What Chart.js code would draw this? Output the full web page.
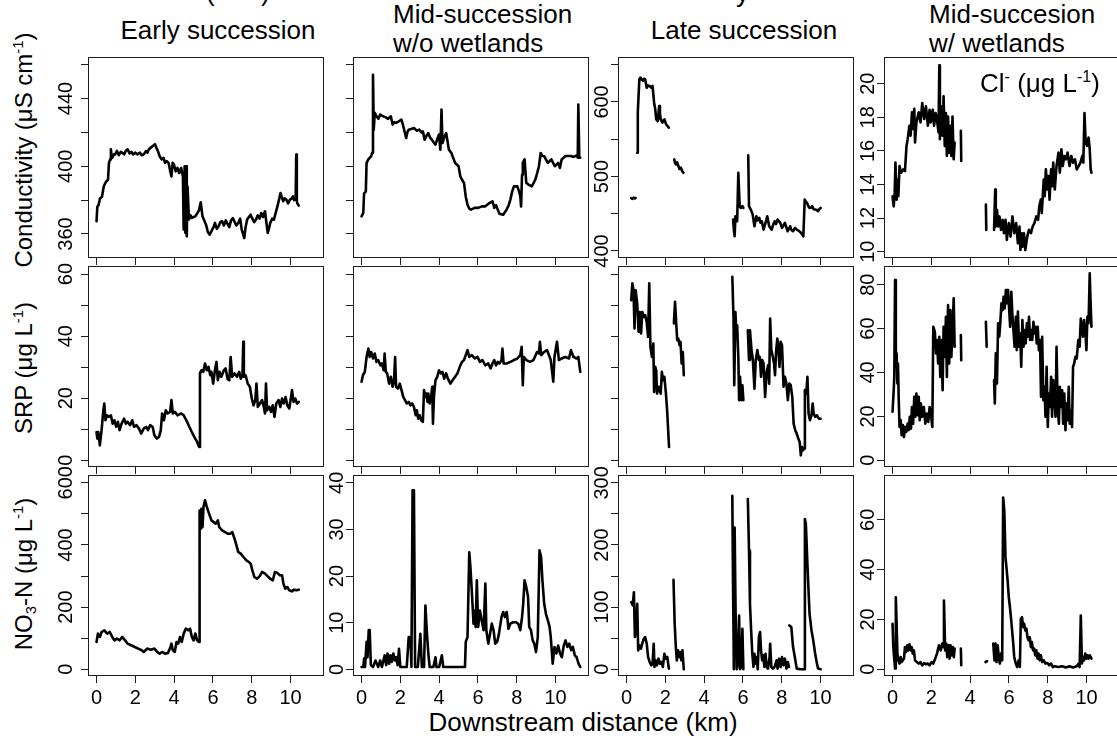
<!DOCTYPE html>
<html>
<head>
<meta charset="utf-8">
<title>Downstream longitudinal profiles</title>
<script src="https://cdn.jsdelivr.net/npm/chart.js@4.4.1/dist/chart.umd.min.js"></script>
<style>
  html, body { margin:0; padding:0; background:#fff; }
  body { width:1117px; height:740px; overflow:hidden; position:relative;
         font-family:"Liberation Sans", Arial, Helvetica, sans-serif; color:#000; }
  canvas.panel { position:absolute; }
  .txt { position:absolute; white-space:nowrap; }
  .rot { position:absolute; white-space:nowrap; text-align:center; transform:rotate(-90deg); transform-origin:50% 50%; }
  sup { font-size:0.62em; vertical-align:0.62em; line-height:0; }
  sub { font-size:0.62em; vertical-align:-0.25em; line-height:0; }
</style>
</head>
<body>
<!-- clipped fragments of a heading above the figure -->
<div class="txt" style="left:206px;top:-21px;font-size:26px;line-height:26px;">(</div>
<div class="txt" style="left:261px;top:-21px;font-size:26px;line-height:26px;">)</div>
<div class="txt" style="left:736px;top:-20px;font-size:26px;line-height:26px;">y</div>

<!-- column titles -->
<div class="txt" style="left:18px;width:400px;text-align:center;top:17px;font-size:26px;line-height:26px;">Early succession</div>
<div class="txt" style="left:393px;top:1px;font-size:26px;line-height:26px;">Mid-succession</div>
<div class="txt" style="left:393px;top:30px;font-size:26px;line-height:26px;">w/o wetlands</div>
<div class="txt" style="left:544px;width:400px;text-align:center;top:17px;font-size:26px;line-height:26px;">Late succession</div>
<div class="txt" style="left:929px;top:1px;font-size:26px;line-height:26px;">Mid-succesion</div>
<div class="txt" style="left:929px;top:30px;font-size:26px;line-height:26px;">w/ wetlands</div>

<!-- row (y axis) titles -->
<div class="rot" style="left:-126px;top:138px;width:300px;height:24px;font-size:24px;line-height:24px;">Conductivity (μS cm<sup>-1</sup>)</div>
<div class="rot" style="left:-126px;top:356px;width:300px;height:24px;font-size:24px;line-height:24px;">SRP (μg L<sup>-1</sup>)</div>
<div class="rot" style="left:-126px;top:562px;width:300px;height:24px;font-size:24px;line-height:24px;">NO<sub>3</sub>-N (μg L<sup>-1</sup>)</div>

<!-- chloride label inside the top-right panel -->
<div class="txt" style="left:980px;top:70px;font-size:26px;line-height:26px;z-index:5;">Cl<sup>-</sup> (μg L<sup>-1</sup>)</div>

<!-- x axis title -->
<div class="txt" style="left:283px;width:600px;text-align:center;top:709px;font-size:26px;line-height:26px;">Downstream distance (km)</div>

<script>
// ---------------- DATA ----------------
// Row 1: conductivity (µS/cm) / chloride
const condEarlyKm = [0,0.04,0.10,0.18,0.28,0.37,0.45,0.50,0.59,0.64,0.70,0.74,0.78,0.81,0.90,0.96,1.05,1.15,1.25,1.32,1.42,1.50,1.60,1.70,1.80,1.88,2.00,2.10,2.24,2.33,2.43,2.55,2.62,2.70,2.80,2.90,3.01,3.08,3.16,3.25,3.35,3.45,3.53,3.62,3.71,3.78,3.86,3.92,3.99,4.08,4.17,4.26,4.36,4.45,4.49,4.54,4.58,4.61,4.65,4.69,4.76,4.84,4.91,5.00,5.09,5.18,5.28,5.37,5.46,5.55,5.64,5.74,5.83,5.96,6.03,6.10,6.20,6.29,6.38,6.47,6.56,6.66,6.75,6.84,6.93,7.02,7.12,7.20,7.30,7.40,7.48,7.55,7.61,7.68,7.76,7.85,7.94,8.03,8.12,8.22,8.30,8.40,8.49,8.58,8.68,8.76,8.82,8.88,8.95,9.05,9.14,9.22,9.32,9.42,9.48,9.54,9.62,9.69,9.78,9.87,9.97,10.06,10.12,10.18,10.26,10.29,10.32,10.35,10.42];
const condEarly = [367.5,376,377,381,382,388,390,391,392,402,404,410,406,405,407,407,409,406.5,408.5,408,407,409,410,407.5,408.5,407,408,407,408,406.5,407,409,408,410,411,412,413,411,409,406,404,405,402,403,402,398,394,402,401,397,399,396,399,394,362.6,400,360.6,400,358.6,388,368.5,371,369.5,370,370.4,372,374,378.7,370.4,368,365.5,361,359.6,362.6,364,366.5,363,364.5,367,367.5,365,368,366,364,368,369.4,367,365,366.5,369,362.6,360,357.6,364,368.5,370,371.4,369,367,368.5,371,369,372.4,370,373.4,366,360.6,363,366.5,369,368.5,372,376.3,381,384.2,382,379.3,381,380.3,378,380.3,381,382.2,380,380.3,406.9,379.3,378,376.7];

const condMidKm = [0,0.09,0.13,0.22,0.26,0.35,0.50,0.55,0.59,0.63,0.68,0.77,0.87,0.96,1.10,1.23,1.37,1.51,1.60,1.70,1.78,1.92,2.06,2.15,2.30,2.36,2.43,2.56,2.70,2.84,2.98,3.08,3.16,3.25,3.35,3.44,3.53,3.62,3.72,3.81,3.90,3.99,4.06,4.12,4.17,4.26,4.36,4.50,4.63,4.72,4.82,4.91,5.00,5.09,5.18,5.28,5.37,5.46,5.55,5.64,5.82,6.01,6.20,6.38,6.56,6.75,6.84,6.93,7.10,7.30,7.48,7.58,7.67,7.76,7.85,8.03,8.12,8.18,8.22,8.27,8.31,8.40,8.49,8.63,8.77,8.86,8.95,9.05,9.14,9.23,9.32,9.41,9.50,9.60,9.69,9.78,9.87,9.96,10.05,10.13,10.22,10.31,10.41,10.51,10.65,10.79,10.93,11.08,11.14,11.17,11.22,11.27];
const condMid = [370.4,372.4,384,385,402,404,406,408,454,421.6,431.5,429.5,428,430.5,429.5,429,428,429.5,424.6,426,425.6,426.5,427.5,423.6,416.7,420,421.6,422,422.6,421,421.6,420,420.6,415.7,418,419.6,417,415.7,414,412.8,416,418.7,409.8,433.4,413.7,417,419.6,409.8,407.8,405,402,401,400,394,392,390,382,377.3,375,374.4,375.4,375.4,376.3,376.3,378,379.3,375.4,377,372,371.4,374.4,377,380.3,385,388.1,388.1,385,382.2,376.3,395,402,404,390.1,389,388.1,390,392,396,400,407.8,406,405.9,404,402,403,404,402,400,401,402,399,404,405,406,406,406,405.5,406.3,405,436.4,405,405];

const condLateKm = [0.24,0.30,0.36,0.42,0.47,0.51,0.55,0.58,0.66,0.72,0.78,0.85,0.90,0.96,1.04,1.10,1.19,1.28,1.34,1.42,1.48,1.53,1.61,1.68,1.72,1.76,1.85,1.90,1.95,2.04,2.10,2.18,2.30,2.46,2.50,2.55,2.60,2.67,2.73,2.80,2.87,2.93,4.20,5.49,5.53,5.57,5.61,5.64,5.70,5.76,5.83,5.89,5.97,6.02,6.15,6.27,6.31,6.40,6.50,6.59,6.69,6.76,6.84,6.90,6.97,7.06,7.16,7.25,7.35,7.48,7.55,7.63,7.70,7.78,7.92,8.01,8.08,8.16,8.30,8.37,8.43,8.50,8.58,8.68,8.77,8.88,9.00,9.11,9.18,9.24,9.30,9.37,9.43,9.50,9.57,9.64,9.72,9.80,9.87,9.93,10.00];
const condLate = [471,470,471.5,470.5,471,null,531.8,585.6,630.5,632.7,630,628.3,631,630.5,619,622,621.5,619,621.5,599,590,576.7,574.4,594.6,585,576.7,572.2,575,576.7,570,568,565.5,null,522.9,518,516.1,519,513.9,510,511.7,507,504.9,null,442.2,428.7,419.7,446.6,442.2,439.9,504.9,460.1,457.8,460.1,457.8,null,528.3,460.1,455.6,448.9,433.2,446.6,441,444.4,438,439.9,428.7,437.7,446.6,433.2,428.7,435,439.9,436,442.2,437.7,431,434,437.7,426.5,430,433.2,428,426.5,431,428.7,427,424.2,419.7,469,466,464.6,460,457.8,458,460.1,456,455.6,455,453.4,456,457.8];

const clWetKm = [0,0.06,0.11,0.15,0.21,0.27,0.30,0.36,0.44,0.55,0.64,0.72,0.78,0.87,0.93,1.00,1.06,1.12,1.16,1.23,1.35,1.44,1.53,1.63,1.72,1.82,1.91,1.97,2.07,2.14,2.22,2.29,2.37,2.41,2.44,2.52,2.58,2.63,2.69,2.75,2.80,2.86,2.92,2.98,3.03,3.09,3.15,3.20,3.40,3.52,3.54,4.20,4.81,4.83,5.00,5.23,5.29,5.32,5.38,5.44,5.51,5.59,5.67,5.74,5.82,5.89,5.99,6.08,6.18,6.27,6.37,6.46,6.54,6.59,6.65,6.71,6.77,6.84,6.94,7.03,7.13,7.22,7.31,7.41,7.50,7.56,7.64,7.69,7.79,7.84,7.90,7.98,8.03,8.09,8.17,8.22,8.28,8.36,8.45,8.55,8.62,8.70,8.77,8.85,8.93,9.02,9.12,9.21,9.30,9.40,9.49,9.59,9.68,9.78,9.83,9.89,9.95,10.02,10.10,10.16,10.21,10.25];
const clWet = [13.3,12.7,13.5,15.3,13.1,14.3,13.3,15.1,14.7,14.9,14.8,16.3,16.7,17.5,16.9,18.3,17.3,18.5,16.5,17.7,18.3,17.7,18.85,17.9,18.65,17.5,18.45,17.7,18.45,17.5,18.25,17.85,17.1,21.1,16.7,18.65,16.9,19.25,16.3,18.25,15.7,18.05,15.9,17.5,15.7,18.05,15.5,16.5,null,17.2,15.4,null,12.8,11.3,null,11.3,13.7,11.5,12.5,11.5,12.1,11.3,11.9,11.1,11.9,10.7,11.7,10.9,12.1,11.1,11.7,10.5,11.5,10.1,11.1,10.3,11.1,10.1,10.9,11.3,11.1,11.5,11.7,12.1,11.9,12.7,13.1,12.3,14.3,13.3,14.9,13.7,14.5,13.1,14.9,13.9,15.3,13.7,15.1,15.9,14.7,16.1,15.1,15.7,15.5,15.9,15.1,15.7,15.3,15.5,14.9,15.1,15.3,15.7,15.3,18.25,16.5,16.3,16.8,16.1,14.9,14.7];

// Row 2: SRP (µg/L)
const srpEarlyKm = [0,0.04,0.09,0.17,0.26,0.35,0.40,0.46,0.53,0.63,0.74,0.83,0.92,1.01,1.10,1.19,1.29,1.42,1.51,1.60,1.73,1.84,1.93,2.06,2.19,2.30,2.43,2.56,2.65,2.76,2.89,2.98,3.11,3.22,3.31,3.38,3.47,3.57,3.66,3.79,3.86,3.93,4.04,4.17,4.36,4.49,4.63,4.78,4.91,5.04,5.18,5.29,5.33,5.40,5.50,5.59,5.68,5.77,5.86,5.92,6.01,6.10,6.18,6.25,6.34,6.43,6.56,6.65,6.75,6.84,6.91,6.99,7.11,7.24,7.35,7.43,7.52,7.56,7.59,7.68,7.79,7.90,8.00,8.09,8.18,8.24,8.31,8.42,8.53,8.62,8.68,8.73,8.79,8.90,8.99,9.08,9.17,9.26,9.38,9.47,9.56,9.65,9.74,9.83,9.93,10.00,10.07,10.15,10.24,10.33,10.42];
const srpEarly = [9.1,7,9.1,4.8,9.7,16.1,18.3,12.9,14.5,14,14.5,11.8,12.9,10.8,12.4,9.7,11.8,13.4,11.8,12.4,11.3,12.9,10.8,11.3,10.2,8.6,10.2,10.8,9.7,11.3,10.8,8.1,7,7.5,9.7,15.1,12.9,16.1,15.1,15.6,19.4,15.1,15.6,14.5,15.1,14.5,12.9,10.8,9.1,7.5,5.9,4.3,28,29,28.5,31.2,29,30.1,27.4,28.5,24.7,29,31.7,25.8,28.5,26.9,29,29.6,26.3,25.8,33.3,26.9,28,26.9,28.5,26.3,27.4,38.2,26.9,27.4,24.7,23.7,19.9,17.7,19.4,24.7,17.2,18.3,19.4,17.2,15.1,24.7,16.1,17.2,15.6,17.7,14,18.3,19.4,17.2,19.9,18.3,20.4,17.7,16.7,19.4,22.6,18.8,19.9,18.3,18.8];

const srpMidKm = [0,0.07,0.17,0.26,0.35,0.42,0.50,0.59,0.68,0.77,0.86,0.97,1.05,1.14,1.19,1.25,1.32,1.42,1.51,1.60,1.67,1.73,1.78,1.88,1.97,2.06,2.15,2.24,2.33,2.43,2.52,2.61,2.70,2.79,2.85,2.92,3.00,3.07,3.16,3.22,3.29,3.35,3.40,3.44,3.51,3.58,3.64,3.68,3.73,3.81,3.90,3.99,4.08,4.17,4.26,4.36,4.45,4.58,4.69,4.82,4.94,5.09,5.18,5.28,5.37,5.46,5.55,5.68,5.83,5.97,6.10,6.23,6.38,6.53,6.65,6.75,6.84,6.93,7.02,7.11,7.21,7.26,7.32,7.48,7.67,7.85,8.03,8.18,8.25,8.31,8.36,8.49,8.68,8.86,9.04,9.14,9.19,9.26,9.41,9.56,9.75,9.88,9.94,10.07,10.17,10.31,10.50,10.69,10.79,10.92,11.08,11.17,11.27];
const srpMid = [25.3,27.4,28.5,33.3,36,33.3,34.9,32.8,34.4,31.7,32.3,30.6,31.2,29,34.4,28.5,28,24.7,26.9,23.7,25.3,33.3,23.7,23.1,24.7,22.6,20.4,19.4,18.3,18.8,17.7,18.3,17.2,14.5,16.1,13.4,14.5,12.9,12.4,22.6,20.4,21.5,18.8,21.5,18.3,19.9,23.7,11.8,20.4,25.8,26.9,29,28,28.5,26.3,28,26.3,24.7,25.8,26.9,28,30.6,31.7,32.3,33.9,35.5,33.3,33.9,32.8,33.3,31.7,32.3,30.6,31.2,29.6,31.2,32.3,30.6,31.7,31.2,32.3,36,31.2,31.2,31.7,32.3,32.8,33.9,36.6,24.2,33.3,32.3,31.7,32.3,34.9,34.4,38.2,33.9,34.9,35.5,32.3,25.3,33.3,38.2,32.3,32.8,33.3,32.8,35.5,33.3,32.8,33.3,28.5];

const srpLateKm = [0.24,0.30,0.36,0.41,0.47,0.55,0.62,0.68,0.75,0.81,0.89,0.96,1.04,1.11,1.17,1.23,1.31,1.38,1.42,1.48,1.53,1.57,1.66,1.76,1.82,1.89,1.95,2.03,2.10,2.19,2.30,2.44,2.50,2.55,2.61,2.67,2.73,2.78,2.84,2.90,2.95,4.20,5.45,5.51,5.55,5.61,5.66,5.70,5.76,5.80,5.85,5.91,5.97,6.02,6.15,6.25,6.31,6.36,6.44,6.51,6.59,6.66,6.74,6.82,6.87,6.93,6.99,7.06,7.14,7.21,7.29,7.35,7.40,7.46,7.54,7.60,7.65,7.71,7.77,7.82,7.88,7.94,8.01,8.09,8.16,8.24,8.31,8.39,8.46,8.54,8.61,8.69,8.77,8.85,8.92,8.98,9.04,9.09,9.15,9.19,9.26,9.32,9.38,9.45,9.53,9.59,9.64,9.72,9.81,9.91,10.00];
const srpLate = [51.6,57,54.8,42.5,54.8,50.5,41.4,47.8,40.9,47.8,46.2,46.8,44.6,39.8,57,36.6,33.3,37.6,22,30.1,29,21.5,23.7,21.5,28.5,25.8,26.9,21.5,15.1,4.3,null,44.1,51.1,45.2,38.7,39.2,37.1,38.2,31.2,34.9,27.4,null,59.1,46.2,24.2,47.8,40.3,43.5,33.3,19.4,26.9,19.4,24.2,19.4,null,41.9,32.3,41.9,35.5,32.3,23.1,32.3,35.5,32.3,33.3,26.9,32.3,31.2,20.4,28,30.6,24.7,45.7,35.5,33.3,31.2,27.4,35.5,39.2,36.6,30.1,38.2,37.1,23.7,26.9,24.7,19.4,24.7,24.2,20.4,11.8,9.7,8.6,7,5.9,1.6,4.3,3.2,3.8,22.6,21.5,26.9,15.1,12.9,14.5,18.3,15.1,14,14.5,13.4,13.4];

const srpWetKm = [0,0.06,0.09,0.13,0.17,0.21,0.25,0.28,0.32,0.36,0.42,0.47,0.53,0.59,0.64,0.70,0.78,0.83,0.89,0.95,1.00,1.06,1.12,1.17,1.23,1.29,1.35,1.40,1.46,1.53,1.61,1.69,1.76,1.84,1.91,1.99,2.05,2.10,2.18,2.24,2.29,2.35,2.41,2.46,2.52,2.58,2.63,2.69,2.75,2.80,2.86,2.92,2.98,3.03,3.09,3.15,3.20,3.40,3.52,3.54,4.20,4.81,4.85,5.00,5.23,5.27,5.32,5.38,5.44,5.50,5.55,5.61,5.67,5.72,5.78,5.84,5.89,5.95,6.01,6.06,6.12,6.18,6.23,6.29,6.35,6.40,6.46,6.52,6.58,6.63,6.69,6.75,6.80,6.86,6.92,6.97,7.03,7.09,7.14,7.20,7.26,7.31,7.37,7.43,7.48,7.54,7.60,7.65,7.71,7.77,7.83,7.88,7.94,8.00,8.05,8.11,8.17,8.22,8.28,8.34,8.40,8.45,8.51,8.57,8.62,8.68,8.74,8.79,8.85,8.91,8.96,9.02,9.08,9.13,9.19,9.25,9.30,9.36,9.42,9.49,9.57,9.64,9.70,9.76,9.81,9.87,9.93,9.99,10.04,10.10,10.16,10.20,10.25];
const srpWet = [22.1,31.9,38,82.1,42.6,48.7,35,44.1,27.4,15.2,18.3,11.4,16,10.6,15.2,12.9,16.7,13.7,19.8,14.4,24.3,16.7,28.9,19.8,30.4,20.5,28.9,18.3,25.9,19.8,24.3,16.7,21.3,17.5,24.3,19.8,15.2,60.8,58.6,48.7,54.8,44.1,56.3,38,54.8,31.9,60.8,47.1,65.4,38,70.7,44.1,68.4,47.1,59.3,73.8,51.7,null,57,45.6,null,63.1,51.7,null,36.5,25.9,48.7,35,62.4,56.3,62.4,71.5,68.4,74.5,69.2,77.6,71.5,77.6,68.4,60.8,76.8,65.4,59.3,51.7,65.4,50.2,67.7,51.7,57.8,42.6,63.9,51.7,59.3,53.2,62.4,56.3,65.4,54.8,59.3,54.8,63.1,57.8,60.8,53.2,60.8,50.2,54.8,28.9,56.3,27.4,33.5,19.8,42.6,15.2,30.4,24.3,38,19.8,36.5,28.9,19.8,51.7,24.3,16.7,33.5,24.3,31.9,16.7,30.4,13.7,25.9,18.3,33.5,16.7,22.8,15.2,42.6,44.1,47.1,46.4,54.8,51.7,64.6,60.8,56.3,63.9,59.3,50.2,65.4,62.4,85.2,73,60.8];

// Row 3: NO3-N (µg/L)
const no3EarlyKm = [0,0.07,0.17,0.26,0.40,0.55,0.68,0.81,0.92,1.05,1.19,1.32,1.47,1.60,1.78,1.97,2.15,2.33,2.43,2.61,2.79,2.98,3.13,3.25,3.38,3.53,3.68,3.81,3.86,3.93,4.03,4.12,4.21,4.30,4.39,4.49,4.60,4.72,4.82,4.91,5.00,5.09,5.18,5.28,5.31,5.37,5.40,5.46,5.51,5.59,5.66,5.74,5.83,5.92,6.03,6.14,6.25,6.32,6.47,6.62,6.75,6.88,6.99,7.11,7.21,7.30,7.43,7.57,7.72,7.85,7.94,8.03,8.13,8.27,8.40,8.53,8.68,8.82,8.95,9.08,9.19,9.32,9.45,9.56,9.63,9.72,9.83,9.93,10.06,10.18,10.29,10.42];
const no3Early = [87.9,114.7,104,120,125.4,114.7,120,104,93.2,98.6,93.2,104,93.2,82.5,77.2,71.8,66.5,61.1,55.7,66.5,63.2,66.5,55.7,50.4,55.7,50.4,52.5,71.8,82.5,61.1,55.7,87.9,82.5,104,87.9,114.7,130.8,125.4,130.8,104,93.2,114.7,93.2,87.9,511,452,516.6,457.4,522,543.4,527.3,511,495.2,479.1,473.7,468.4,479.1,457.4,446.9,441.6,436.2,436.2,441.6,420.1,398.7,377.3,371.9,361.2,350.5,345.1,339.8,318.3,296.9,291.5,299,313,307.6,299,291.5,286.2,313,309.7,302.2,302.2,275.4,259.4,264.7,254,250.8,256.2,254,256.2];

const no3MidKm = [0,0.09,0.13,0.18,0.26,0.31,0.37,0.42,0.48,0.59,0.72,0.86,0.96,1.05,1.19,1.27,1.34,1.42,1.49,1.56,1.64,1.71,1.78,1.86,1.93,2.00,2.15,2.33,2.43,2.52,2.57,2.63,2.70,2.76,2.90,3.03,3.11,3.22,3.29,3.36,3.44,3.51,3.70,3.81,3.86,4.00,4.14,4.21,4.50,5.00,5.33,5.37,5.46,5.55,5.61,5.68,5.77,5.83,5.88,5.94,6.01,6.10,6.19,6.29,6.38,6.43,6.53,6.62,6.71,6.80,6.89,6.99,7.08,7.21,7.30,7.39,7.48,7.57,7.67,7.81,7.94,8.07,8.18,8.27,8.33,8.40,8.49,8.58,8.64,8.73,8.82,8.90,8.99,9.08,9.17,9.25,9.32,9.41,9.50,9.60,9.69,9.75,9.85,9.94,10.04,10.13,10.23,10.32,10.42,10.51,10.61,10.70,10.80,10.89,10.99,11.08,11.18,11.27];
const no3Mid = [0.5,0.5,2.3,0.5,5.9,2.6,8.4,8.4,0.9,0.5,1.9,0.5,1.9,0.5,3,0.9,3.4,1.2,3,1.6,3.4,1.9,2.6,0.9,4.4,0.5,0.5,0.5,6.9,6.9,0.5,38.4,38.4,0.5,0.5,7.6,0.5,0.5,13.7,8.4,3.4,0.5,0.5,2.6,0.5,0.5,3,0.5,0.5,0.5,0.5,5.9,6.9,25.1,21.9,16.9,9.8,12.6,9.1,19.1,9.1,12.6,10.5,8.4,18.4,8.4,5.5,7.6,9.8,8.4,5.5,5.9,7.6,11.2,12.3,11.2,12.3,8.7,9.8,10.1,10.1,9.8,8.4,11.2,14.1,19.1,17.6,15.5,9.1,8.4,6.2,5.5,3.7,6.9,25.5,24.1,19.1,14.1,11.9,10.5,9.1,6.9,1.2,4.8,3.4,5.1,3.4,2.6,5.1,6.2,4.8,5.5,4.1,4.8,3,2.6,1.2,0.5];

const no3LateKm = [0.24,0.32,0.38,0.43,0.49,0.55,0.60,0.66,0.74,0.81,0.89,0.96,1.04,1.11,1.19,1.27,1.34,1.40,1.44,1.50,1.57,1.65,1.72,1.80,1.87,1.95,2.02,2.10,2.18,2.30,2.42,2.48,2.54,2.59,2.65,2.71,2.76,2.82,2.88,2.95,4.20,5.45,5.49,5.53,5.57,5.62,5.68,5.74,5.80,5.85,5.91,5.97,6.02,6.15,6.25,6.31,6.36,6.42,6.48,6.54,6.59,6.65,6.71,6.76,6.82,6.88,6.93,6.99,7.05,7.10,7.16,7.22,7.29,7.37,7.40,7.46,7.54,7.63,7.73,7.78,7.86,7.94,8.01,8.09,8.16,8.24,8.31,8.37,8.38,8.39,8.49,8.58,8.67,8.77,8.96,9.15,9.19,9.24,9.34,9.43,9.53,9.62,9.72,9.81,9.87,10.00];
const no3Late = [108,102.7,124,51.9,62.6,105.3,30.5,38.5,33.2,41.2,49.2,51.9,41.2,19.8,11.8,6.4,9.1,41.2,3.7,14.4,6.4,17.1,9.1,11.8,3.7,25.1,17.1,19.8,1.1,null,143.9,73.3,35.8,14.4,30.5,19.8,27.8,14.4,30.5,0,null,279,126.7,0,228,89.3,0,9.1,86.6,0,3.7,65.2,0,null,273.8,190.9,105.3,62.6,25.1,3.7,25.1,9.1,19.8,0,51.9,59.9,30.5,14.4,22.5,3.7,25.1,3.7,1.1,19.8,41.2,3.7,1.1,3.7,14.4,1.1,17.1,3.7,19.8,6.4,17.1,1.1,11.8,3.7,null,70.6,67.9,35.8,19.8,1.1,0,0,241.7,233.7,153.5,89.3,62.6,46.5,25.1,9.1,1.1,0];

const no3WetKm = [0,0.04,0.08,0.13,0.17,0.21,0.25,0.30,0.36,0.42,0.47,0.53,0.59,0.64,0.70,0.76,0.81,0.87,0.93,0.99,1.04,1.10,1.16,1.25,1.35,1.44,1.53,1.63,1.72,1.82,1.91,2.01,2.10,2.20,2.29,2.39,2.48,2.56,2.62,2.65,2.71,2.77,2.82,2.88,2.94,2.99,3.05,3.11,3.16,3.20,3.40,3.52,3.54,4.20,4.79,4.87,5.00,5.19,5.25,5.31,5.36,5.42,5.48,5.53,5.59,5.65,5.70,5.76,5.82,5.87,5.93,5.99,6.05,6.10,6.16,6.22,6.27,6.35,6.42,6.50,6.56,6.61,6.67,6.73,6.78,6.84,6.90,6.95,7.01,7.07,7.13,7.18,7.24,7.30,7.35,7.41,7.47,7.52,7.58,7.64,7.71,7.79,7.88,7.98,8.07,8.17,8.26,8.36,8.55,8.74,8.93,9.12,9.30,9.49,9.59,9.64,9.70,9.76,9.81,9.87,9.93,9.99,10.04,10.10,10.16,10.21,10.25];
const no3Wet = [18.3,8.9,4.9,0.3,28.9,18.3,6.3,3.6,2.3,4.9,2.9,3.6,4.3,8.9,6.9,9.6,7.6,10,7.6,8.9,6.3,7.6,3.6,2.9,2.3,2.9,1.6,2.5,2,2.3,1.6,2.9,2.3,4.3,6.3,9.6,7.6,10.3,8.9,27.6,7.6,10.3,4.9,9.6,4.3,9.6,5.6,8.9,4.9,8.3,null,8.3,1.6,null,2.9,3.3,null,10.3,3.6,10.3,2.9,9.6,4.3,2.3,6.3,3.6,68.9,63.6,44.9,40.9,35.6,28.9,24.9,20.9,15.6,10.3,4.9,2.3,0.9,3.6,0.9,20.3,20.9,16.9,18.3,15.6,16.3,12.9,11.6,12.9,8.9,10.9,7.6,8.3,5.6,7.6,4.3,6.3,3.6,5.6,2.9,3.6,2.3,2.5,1.6,2.3,0.9,1.2,0.9,1.2,0.7,1.2,0.7,1.2,2.3,0.9,21.6,2.3,4.9,3.6,6.3,4.3,5.6,4.3,5.6,4.9,4.3];

// ---------------- tick values / labels ----------------
const xTickValues = [0, 2, 4, 6, 8, 10];
const condTicks = [360, 380, 400, 420, 440, 460];
const condTickLabels = [360, 400, 440];
const condLateTicks = [400, 450, 500, 550, 600, 650];
const condLateTickLabels = [400, 500, 600];
const clTicks = [10, 12, 14, 16, 18, 20];
const srpTicks = [0, 10, 20, 30, 40, 50, 60];
const srpTickLabels = [0, 20, 40, 60];
const srpWetTicks = [0, 20, 40, 60, 80];
const no3EarlyTicks = [0, 100, 200, 300, 400, 500, 600];
const no3EarlyTickLabels = [0, 200, 400, 600];
const no3MidTicks = [0, 10, 20, 30, 40];
const no3LateTicks = [0, 50, 100, 150, 200, 250, 300];
const no3LateTickLabels = [0, 100, 200, 300];
const no3WetTicks = [0, 20, 40, 60];

// ---------------- layout / style ----------------
const FONT_FAMILY = "'Liberation Sans', Arial, Helvetica, sans-serif";
const TICK_FONT_SIZE = 20;
const X_MIN = -0.44, X_MAX = 11.72;
const COL_LEFT = [88, 353, 618, 884];
const ROW_TOP = [57, 266, 475];
const BOX_W = 236, BOX_H = 201;
const AX_W = 70, AX_H = 40, PAD_T = 25, PAD_R = 10;
const TICK_LEN = 7;

const panels = [
  {r:0, c:0, xs:condEarlyKm, ys:condEarly, yMin:345.8, yMax:464.5, ticks:condTicks, labels:condTickLabels},
  {r:0, c:1, xs:condMidKm,   ys:condMid,   yMin:345.8, yMax:464.5, ticks:condTicks, labels:[]},
  {r:0, c:2, xs:condLateKm,  ys:condLate,  yMin:390.6, yMax:660.3, ticks:condLateTicks, labels:condLateTickLabels},
  {r:0, c:3, xs:clWetKm,     ys:clWet,     yMin:9.625, yMax:21.59, ticks:clTicks, labels:clTicks},
  {r:1, c:0, xs:srpEarlyKm,  ys:srpEarly,  yMin:-2.16, yMax:62.6, ticks:srpTicks, labels:srpTickLabels},
  {r:1, c:1, xs:srpMidKm,    ys:srpMid,    yMin:-2.16, yMax:62.6, ticks:srpTicks, labels:[]},
  {r:1, c:2, xs:srpLateKm,   ys:srpLate,   yMin:-2.16, yMax:62.6, ticks:srpTicks, labels:[]},
  {r:1, c:3, xs:srpWetKm,    ys:srpWet,    yMin:-3.06, yMax:88.5, ticks:srpWetTicks, labels:srpWetTicks},
  {r:2, c:0, xs:no3EarlyKm,  ys:no3Early,  yMin:-21.6, yMax:625, ticks:no3EarlyTicks, labels:no3EarlyTickLabels},
  {r:2, c:1, xs:no3MidKm,    ys:no3Mid,    yMin:-1.43, yMax:41.67, ticks:no3MidTicks, labels:no3MidTicks},
  {r:2, c:2, xs:no3LateKm,   ys:no3Late,   yMin:-10.8, yMax:312.6, ticks:no3LateTicks, labels:no3LateTickLabels},
  {r:2, c:3, xs:no3WetKm,    ys:no3Wet,    yMin:-2.69, yMax:77.96, ticks:no3WetTicks, labels:no3WetTicks}
];

const measureCtx = document.createElement('canvas').getContext('2d');
measureCtx.font = TICK_FONT_SIZE + 'px ' + FONT_FAMILY;
function widestLabel(labels) {
  let w = 0;
  labels.forEach(l => { w = Math.max(w, measureCtx.measureText(String(l)).width); });
  return w;
}

const boxPlugin = {
  id: 'panelBox',
  afterDraw(chart) {
    const {ctx, chartArea: a} = chart;
    ctx.save();
    ctx.strokeStyle = '#1e1e1e';
    ctx.lineWidth = 1;
    ctx.strokeRect(a.left + 0.5, a.top + 0.5, a.right - a.left - 1, a.bottom - a.top - 1);
    ctx.restore();
  }
};

panels.forEach(p => {
  const canvas = document.createElement('canvas');
  canvas.className = 'panel';
  const W = AX_W + BOX_W + PAD_R, H = PAD_T + BOX_H + AX_H;
  canvas.width = W; canvas.height = H;
  canvas.style.width = W + 'px'; canvas.style.height = H + 'px';
  canvas.style.left = (COL_LEFT[p.c] - AX_W) + 'px';
  canvas.style.top = (ROW_TOP[p.r] - PAD_T) + 'px';
  document.body.appendChild(canvas);

  const points = p.xs.map((x, i) => ({x: x, y: p.ys[i]}));
  const labelGap = p.c === 0 ? 22 : 16;
  const yPad = labelGap - TICK_LEN - widestLabel(p.labels) / 2;
  const showX = p.r === 2;

  new Chart(canvas, {
    type: 'line',
    data: { datasets: [{
      data: points,
      borderColor: '#000',
      borderWidth: 2.6,
      pointRadius: 0,
      tension: 0,
      spanGaps: false,
      borderJoinStyle: 'round',
      borderCapStyle: 'round',
      fill: false
    }]},
    options: {
      responsive: false,
      animation: false,
      devicePixelRatio: 1,
      events: [],
      layout: { padding: { top: PAD_T, right: PAD_R, left: 0, bottom: 0 } },
      plugins: { legend: { display: false }, tooltip: { enabled: false } },
      scales: {
        x: {
          type: 'linear', position: 'bottom', min: X_MIN, max: X_MAX,
          afterBuildTicks: s => { s.ticks = xTickValues.map(v => ({value: v})); },
          afterFit: s => { s.height = AX_H; s.paddingLeft = 0; s.paddingRight = 0; },
          border: { display: false },
          grid: { drawOnChartArea: false, drawTicks: true, tickLength: TICK_LEN, color: '#1e1e1e', lineWidth: 1 },
          ticks: {
            autoSkip: false, maxRotation: 0, minRotation: 0, padding: 3, color: '#000',
            font: { family: FONT_FAMILY, size: TICK_FONT_SIZE },
            callback: v => showX ? String(v) : ''
          }
        },
        y: {
          type: 'linear', position: 'left', min: p.yMin, max: p.yMax,
          afterBuildTicks: s => { s.ticks = p.ticks.map(v => ({value: v})); },
          afterFit: s => { s.width = AX_W; s.paddingTop = 0; s.paddingBottom = 0; },
          border: { display: false },
          grid: { drawOnChartArea: false, drawTicks: true, tickLength: TICK_LEN, color: '#1e1e1e', lineWidth: 1 },
          ticks: {
            autoSkip: false, minRotation: 90, maxRotation: 90, crossAlign: 'center',
            padding: yPad, color: '#000',
            font: { family: FONT_FAMILY, size: TICK_FONT_SIZE },
            callback: v => p.labels.includes(v) ? String(v) : ''
          }
        }
      }
    },
    plugins: [boxPlugin]
  });
});
</script>
</body>
</html>
